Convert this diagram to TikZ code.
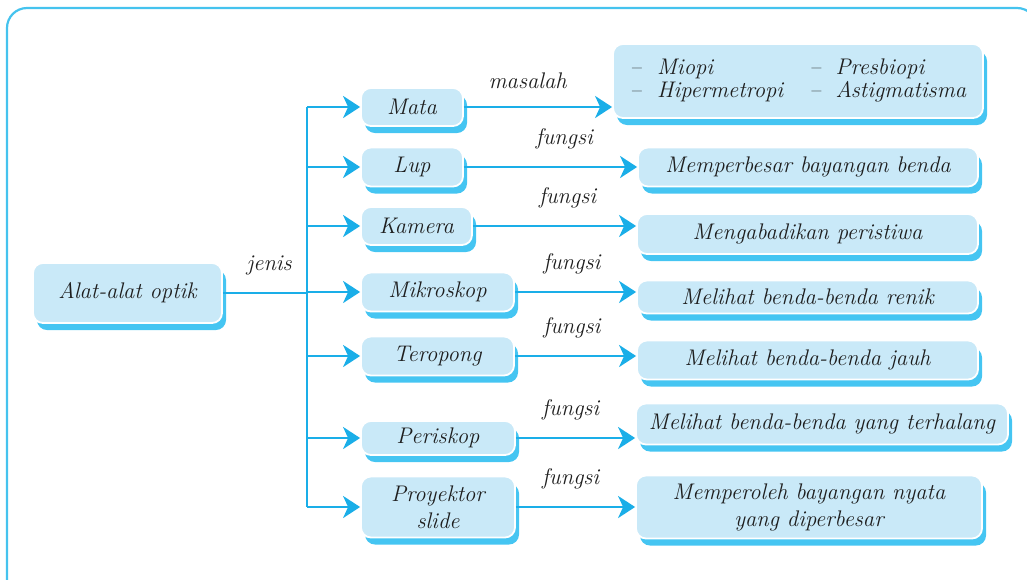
\documentclass[tikz,border=0pt]{standalone}
\usepackage{fontspec}
\usepackage{tikz}
\usetikzlibrary{arrows.meta,positioning,shadows,calc}
\definecolor{boxfill}{HTML}{C9E9F8}
\definecolor{shade}{HTML}{45C5F2}
\definecolor{flow}{HTML}{1AAEE8}
\definecolor{rim}{HTML}{45C3EE}
\definecolor{ink}{HTML}{1E1E1E}

\begin{document}
\begin{tikzpicture}[
  x=0.5pt, y=-0.5pt,
  box/.style={rectangle, rounded corners=5pt, fill=boxfill, draw=white,
              line width=0.9pt, text=ink, align=center, inner sep=1pt,
              font=\fontsize{11.3}{13.5}\selectfont\itshape,
              drop shadow={fill=shade, opacity=1,
                           shadow xshift=2pt, shadow yshift=-3.5pt}},
  arrow/.style={-{Stealth[length=8.5pt, width=11pt, inset=2.5pt]},
                draw=flow, line width=1.3pt},
  lbl/.style={font=\fontsize{11.3}{13.5}\selectfont\itshape, text=ink}
]
  \useasboundingbox (0,0) rectangle (1027,579);
  % ── outer frame ──
  \draw[rim, line width=1.1pt, rounded corners=10pt]
    (7,600) -- (7,8) -- (1037,8) -- (1037,600);

  % ── root ──
  \node[box, minimum width=94.5pt, minimum height=30pt] (alat) at (127.5,293) {Alat-alat optik};
  \coordinate (trunk) at (307,293);

  % ── jenis ──
  \node[box, minimum width=51pt, minimum height=19pt] (mata) at (412,107) {Mata};
  \node[box, minimum width=51pt, minimum height=19.5pt] (lup) at (412,167) {Lup};
  \node[box, minimum width=55.5pt, minimum height=19pt] (kamera) at (416.5,226) {Kamera};
  \node[box, minimum width=76.5pt, minimum height=19.5pt] (mikro) at (437.5,292) {Mikroskop};
  \node[box, minimum width=76.5pt, minimum height=19.5pt] (terop) at (437.5,356) {Teropong};
  \node[box, minimum width=77pt, minimum height=17pt] (peris) at (438,438) {Periskop};
  \node[box, minimum width=77pt, minimum height=30.5pt] (proy) at (438,507) {Proyektor\\slide};

  % ── masalah / fungsi ──
  \node[box, minimum width=185pt, minimum height=37pt] (masalah) at (798,81)
    {\begin{tabular}{@{}l@{\hspace{13pt}}l@{}}
       --\hspace{8pt}Miopi & --\hspace{7.5pt}Presbiopi\\[-2pt]
       --\hspace{8pt}Hipermetropi & --\hspace{7.5pt}Astigmatisma
     \end{tabular}};
  \node[box, minimum width=170pt, minimum height=19.5pt] (memp) at (808,167) {Memperbesar bayangan benda};
  \node[box, minimum width=170.5pt, minimum height=20pt] (meng) at (807.5,234) {Mengabadikan peristiwa};
  \node[box, minimum width=170.5pt, minimum height=16.5pt] (renik) at (807.5,297) {Melihat benda-benda renik};
  \node[box, minimum width=170.5pt, minimum height=19.5pt] (jauh) at (807.5,360) {Melihat benda-benda jauh};
  \node[box, minimum width=186pt, minimum height=20.5pt] (terhal) at (822,424) {Melihat benda-benda yang terhalang};
  \node[box, minimum width=173pt, minimum height=31.5pt] (nyata) at (809,507) {Memperoleh bayangan nyata\\yang diperbesar};

  % ── trunk and branches ──
  \draw[flow, line width=1.3pt] (alat.east) -- node[lbl, above=5pt, pos=0.55]{jenis} (trunk);
  \draw[flow, line width=1.3pt] (mata.west -| trunk) -- (proy.west -| trunk);
  \foreach \n in {mata,lup,kamera,mikro,terop,peris,proy}
    \draw[arrow] (\n.west -| trunk) -- (\n.west);

  \draw[arrow] (mata.east) -- node[lbl, above=5pt, pos=0.43]
    {\addfontfeature{LetterSpace=12}masalah} (mata.east -| masalah.west);
  \draw[arrow] (lup.east) -- node[lbl, above=5pt, pos=0.58]{fungsi} (lup.east -| memp.west);
  \draw[arrow] (kamera.east) -- node[lbl, above=5pt, pos=0.58]{fungsi} (kamera.east -| meng.west);
  \draw[arrow] (mikro.east) -- node[lbl, above=5pt, pos=0.47]{fungsi} (mikro.east -| renik.west);
  \draw[arrow] (terop.east) -- node[lbl, above=5pt, pos=0.47]{fungsi} (terop.east -| jauh.west);
  \draw[arrow] (peris.east) -- node[lbl, above=5pt, pos=0.46]{fungsi} (peris.east -| terhal.west);
  \draw[arrow] (proy.east) -- node[lbl, above=5pt, pos=0.46]{fungsi} (proy.east -| nyata.west);
\end{tikzpicture}
\end{document}
